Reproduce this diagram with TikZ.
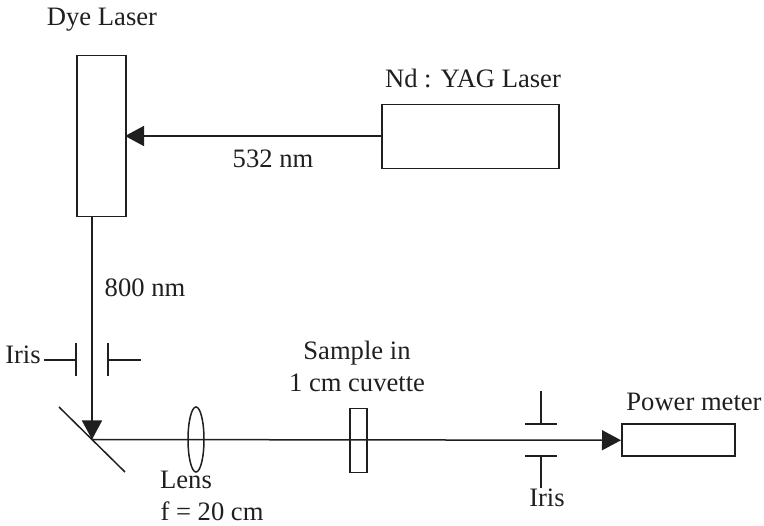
\documentclass[tikz,border=0pt]{standalone}
\usepackage{fontspec}
\setmainfont{Liberation Serif}
\usetikzlibrary{arrows.meta,shapes.geometric}
\definecolor{ink}{gray}{0.12}
\tikzset{
  box/.style={draw=ink,line width=1.5pt,inner sep=0pt,anchor=north west},
  lab/.style={inner sep=0pt,anchor=base,text=ink,font=\fontsize{26.6}{28}\selectfont},
  ln/.style={draw=ink,line width=1.5pt},
  arr/.style={ln,-{Triangle[length=19pt,width=20pt]}}
}
\begin{document}
\begin{tikzpicture}[x=1pt,y=-1pt]
\useasboundingbox (0,0) rectangle (764,526);
\node[box,minimum width=49pt,minimum height=161pt] (dye) at (76,55) {};
\node[box,minimum width=177pt,minimum height=64pt] (yag) at (381,104) {};
\node[box,minimum width=113pt,minimum height=32pt] (pm) at (621,423.5) {};
\node[box,minimum width=17pt,minimum height=64pt] (cuv) at (349,408) {};
\node[draw=ink,line width=1.5pt,ellipse,inner sep=0pt,minimum width=16pt,minimum height=65pt] (lens) at (196,439.5) {};
\coordinate (dyeIn) at (125,136);
\coordinate (m) at (92,439.5);
\coordinate (m1) at (59,407);
\coordinate (m2) at (125,472);
\coordinate (dyeOut) at (92,216);
\draw[arr] (yag.west |- dyeIn) -- (dyeIn);
\draw[arr] (dyeOut) -- (m);
\draw[ln] (m1) -- (m2);
\draw[arr] (m) -- (pm.west);
\coordinate (ia) at (44,360); \coordinate (ib) at (76,360);
\coordinate (ic) at (76,343); \coordinate (id) at (76,376);
\coordinate (ie) at (108,360); \coordinate (if) at (141,360);
\coordinate (ig) at (108,343); \coordinate (ih) at (108,376);
\draw[ln] (ia) -- (ib); \draw[ln] (ic) -- (id);
\draw[ln] (ie) -- (if); \draw[ln] (ig) -- (ih);
\coordinate (ja) at (541,391); \coordinate (jb) at (541,424);
\coordinate (jc) at (525,424); \coordinate (jd) at (557,424);
\coordinate (je) at (541,456); \coordinate (jf) at (541,488);
\coordinate (jg) at (525,456); \coordinate (jh) at (557,456);
\draw[ln] (ja) -- (jb); \draw[ln] (jc) -- (jd);
\draw[ln] (je) -- (jf); \draw[ln] (jg) -- (jh);
\node[lab] (t1) at (102,26) {Dye Laser};
\node[lab] (t2) at (473,88) {Nd : YAG Laser};
\node[lab] (t3) at (273,168) {532 nm};
\node[lab] (t4) at (145,297) {800 nm};
\node[lab] (t5) at (23,364) {Iris};
\node[lab] (t6) at (357,360) {Sample in};
\node[lab] (t7) at (357,392) {1 cm cuvette};
\node[lab] (t8) at (186,489) {Lens};
\node[lab] (t9) at (212,521) {f = 20 cm};
\node[lab] (t10) at (694,411) {Power meter};
\node[lab] (t11) at (547,507) {Iris};
\end{tikzpicture}
\end{document}
